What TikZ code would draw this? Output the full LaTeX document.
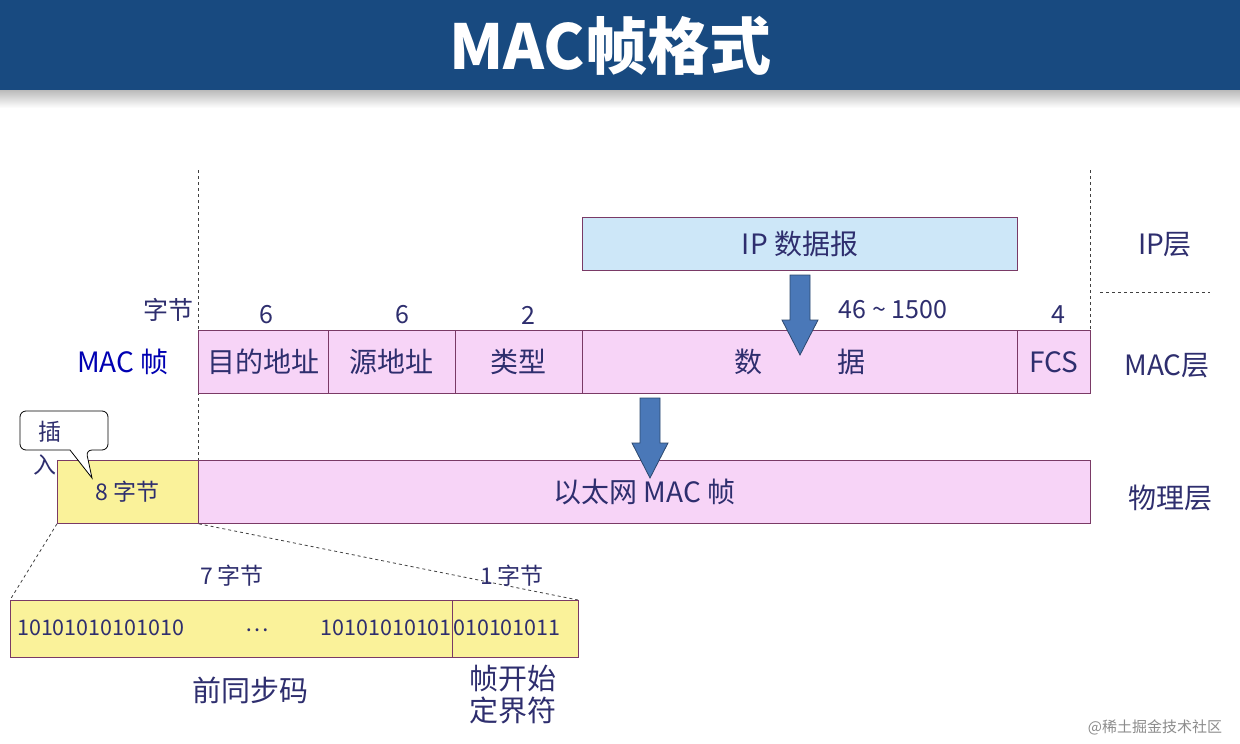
\documentclass[tikz,border=0pt]{standalone}
\usepackage{fontspec}
\setmainfont{Noto Sans CJK SC}
\definecolor{hdr}{HTML}{184A80}
\definecolor{pinkf}{HTML}{F7D4F7}
\definecolor{boxb}{HTML}{7A3A66}
\definecolor{ipf}{HTML}{CDE7F8}
\definecolor{yel}{HTML}{FAF29A}
\definecolor{txt}{HTML}{2E2E6E}
\definecolor{arr}{HTML}{4A78B8}
\tikzset{
 cell/.style={draw=boxb,line width=0.8pt,fill=pinkf,minimum height=63pt,inner sep=0pt,text=txt,font=\fontsize{28}{30}\selectfont},
 ycell/.style={cell,fill=yel},
 lbl/.style={text=txt,font=\fontsize{25}{27}\selectfont,inner sep=0pt},
 dl/.style={dashed,line width=0.8pt,draw=black!75},
 barr/.style={fill=arr,draw=arr!60!black,line width=0.8pt}
}
\begin{document}
\begin{tikzpicture}[x=1pt,y=-1pt]
\useasboundingbox (0,0) rectangle (1240,744);
\fill[white] (0,0) rectangle (1240,744);
\shade[top color=black!30,bottom color=white] (0,88) rectangle (1240,108);
\fill[hdr] (0,0) rectangle (1240,90);
\node[text=white,font=\fontsize{62}{64}\selectfont\bfseries] (title) at (610,46) {MAC帧格式};
% dashed verticals
\draw[dl] (198,170) -- (198,460);
\draw[dl] (1090,170) -- (1090,330);
\draw[dl] (1100,292) -- (1210,292);
% IP box
\node[cell,fill=ipf,minimum width=435pt,minimum height=53pt,anchor=north west] (ip) at (582,217) {IP 数据报};
% MAC row
\node[cell,minimum width=130pt,anchor=north west] (dst) at (198,330) {目的地址};
\node[cell,minimum width=127pt,anchor=north west] (src) at (328,330) {源地址};
\node[cell,minimum width=127pt,anchor=north west] (typ) at (455,330) {类型};
\node[cell,minimum width=435pt,anchor=north west] (dat) at (582,330) {数\hspace{75pt}据};
\node[cell,minimum width=73pt,anchor=north west] (fcs) at (1017,330) {FCS};
\node[lbl] (l1) at (168,310) {字节};
\node[lbl] (l2) at (266,315) {6};
\node[lbl] (l3) at (402,315) {6};
\node[lbl] (l4) at (528,315) {2};
\node[lbl] (l5) at (893,310) {46 \textasciitilde{} 1500};
\node[lbl] (l6) at (1058,315) {4};
\node[lbl,text=blue!70!black,font=\fontsize{28}{30}\selectfont] (macf) at (123,362) {MAC 帧};
\node[lbl,font=\fontsize{28}{30}\selectfont] (ipl) at (1165,245) {IP层};
\node[lbl,font=\fontsize{28}{30}\selectfont] (macl) at (1167,366) {MAC层};
\node[lbl,font=\fontsize{28}{30}\selectfont] (phl) at (1170,498) {物理层};
% physical row
\node[ycell,minimum width=141pt,anchor=north west,font=\fontsize{23}{25}\selectfont] (pre) at (57,460) {8 字节};
\node[cell,minimum width=892pt,anchor=north west] (eth) at (198,460) {以太网 MAC 帧};
% arrows
\draw[barr] (790,275) -- (810,275) -- (810,320) -- (818,320) -- (800,355) -- (782,320) -- (790,320) -- cycle;
\draw[barr] (640,398) -- (660,398) -- (660,443) -- (668,443) -- (650,478) -- (632,443) -- (640,443) -- cycle;
% callout
\draw[line width=0.8pt,fill=white,rounded corners=6pt] (20,411) -- (108,411) -- (108,450) -- (86,450) [sharp corners]-- (92,478) -- (70,450) [rounded corners=6pt] -- (20,450) -- cycle;
\node[lbl,font=\fontsize{23}{25}\selectfont] (cha) at (50,432) {插};
\node[lbl,font=\fontsize{23}{25}\selectfont] (ru) at (45,465) {入};
% zoom lines
\coordinate (b1) at (10,600);
\coordinate (b2) at (578,600);
\draw[dl] (pre.south west) -- (b1);
\draw[dl] (pre.south east) -- (b2);
% bottom row
\node[ycell,minimum width=442pt,minimum height=57pt,anchor=north west] (syn) at (10,600) {};
\node[ycell,minimum width=126pt,minimum height=57pt,anchor=north west] (sfd) at (452,600) {};
\node[lbl,font=\fontsize{21.5}{23}\selectfont,anchor=west] (s1) at (17,628) {10101010101010};
\node[lbl,font=\fontsize{22}{24}\selectfont] (s2) at (257,630) {…};
\node[lbl,font=\fontsize{21.5}{23}\selectfont,anchor=east] (s3) at (452,628) {10101010101};
\node[lbl,font=\fontsize{21.5}{23}\selectfont,anchor=west] (s4) at (453,628) {010101011};
\node[lbl,font=\fontsize{23}{25}\selectfont] (b7) at (232,576) {7 字节};
\node[lbl,font=\fontsize{23}{25}\selectfont] (b8) at (512,576) {1 字节};
\node[lbl,font=\fontsize{29}{31}\selectfont] (qt) at (250,690) {前同步码};
\node[lbl,font=\fontsize{29}{32}\selectfont,align=center] (sf) at (513,695) {帧开始\\定界符};
\node[text=black!45,font=\fontsize{15}{17}\selectfont,inner sep=0pt] (wm) at (1155,727) {@稀土掘金技术社区};
\end{tikzpicture}
\end{document}
